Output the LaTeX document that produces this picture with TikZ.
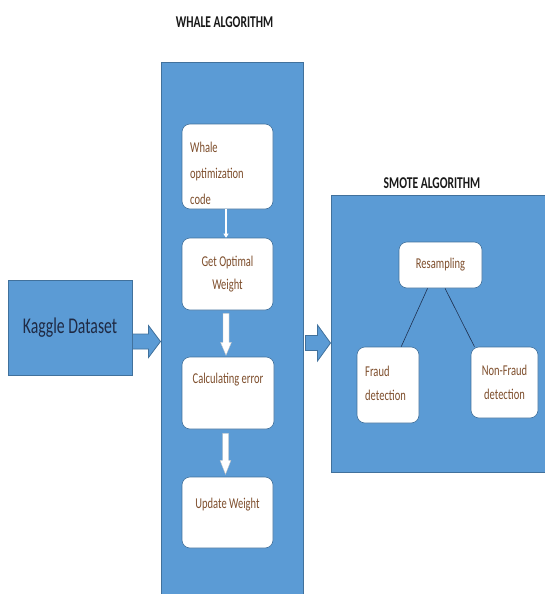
\documentclass[tikz,border=0pt]{standalone}
\usepackage{fontspec}
\setmainfont{Carlito}
\newfontfamily\condfont[FakeStretch=0.70]{Carlito}
\usetikzlibrary{calc,arrows.meta}
\definecolor{bluefill}{HTML}{5B9BD5}
\definecolor{blueedge}{HTML}{41719C}
\definecolor{boxtext}{HTML}{7E4E2C}
\definecolor{navytext}{HTML}{1F2A44}
\definecolor{linkcol}{HTML}{1F3050}
\tikzset{
  panel/.style={rectangle, fill=bluefill, draw=blueedge, line width=1pt, inner sep=0pt},
  wbox/.style={rectangle, rounded corners=8pt, fill=white, draw=blueedge, line width=0.6pt, inner sep=0pt,
    text=boxtext, font=\condfont\fontsize{15}{24}\selectfont, align=center},
  btext/.style={text=boxtext, font=\condfont\fontsize{15}{24}\selectfont, inner sep=0pt},
  titletext/.style={font=\condfont\bfseries\fontsize{16.5}{18}\selectfont, text=black!90, inner sep=0pt},
  barrow/.style={fill=bluefill, draw=blueedge, line width=0.8pt},
  warrow/.style={fill=white, draw=black!25, line width=0.3pt},
  link/.style={draw=linkcol, line width=0.6pt}
}
\begin{document}
\begin{tikzpicture}[x=1pt,y=-1pt]
\useasboundingbox (0,0) rectangle (545,594);
% panels
\node[panel, minimum width=142pt, minimum height=535pt] (whale) at (232,330.5) {};
\node[panel, minimum width=218pt, minimum height=277pt] (smote) at (440,333.5) {};
\node[panel, minimum width=124pt, minimum height=95pt, text=navytext,
      font=\condfont\fontsize{22.5}{26}\selectfont] (kaggle) at (70,327.5) {Kaggle Dataset};
% titles
\node[titletext] (whaletitle) at (224.5,22) {WHALE ALGORITHM};
\node[titletext] (smotetitle) at (432,183) {SMOTE ALGORITHM};
% whale boxes
\node[wbox, minimum width=91pt, minimum height=85pt] (woc) at (227.5,166.5) {};
\node[btext, align=left, anchor=west, font=\condfont\fontsize{15}{26}\selectfont] (woctext) at (190,173) {Whale\\optimization\\code};
\node[wbox, minimum width=91pt, minimum height=72pt, font=\condfont\fontsize{15}{23}\selectfont] (get) at (227.5,274) {Get Optimal\\Weight};
\node[wbox, minimum width=92pt, minimum height=72pt] (calc) at (228,393) {};
\node[btext] (calctext) at (228,380) {Calculating error};
\node[wbox, minimum width=91pt, minimum height=71pt] (upd) at (227.5,512.5) {};
\node[btext] (updtext) at (227.5,505) {Update Weight};
% smote boxes
\node[wbox, minimum width=83pt, minimum height=46pt] (res) at (440.5,265) {Resampling};
\node[wbox, minimum width=62pt, minimum height=76pt] (fraud) at (388,385) {};
\node[btext, align=left, anchor=west] (fraudtext) at (365,383) {Fraud\\detection};
\node[wbox, minimum width=67pt, minimum height=71pt] (nonfraud) at (504.5,382.5) {Non-Fraud\\detection};
% links
\draw[link] (res.241.5) -- (fraud.71.8);
\draw[link] (res.281) -- (nonfraud.130);
% small arrow
\draw[white, line width=1.5pt, -{Triangle[width=5pt,length=4pt]}] ($(woc.south)+(-1.5,0)$) -- ($(get.north)+(-1.5,0)$);
% white block arrows
\draw[warrow] ($(get.south)+(-4.5,3)$) -- ++(6,0) -- ++(0,29) -- ++(2.5,0) -- ++(-5.5,13) -- ++(-5.5,-13) -- ++(2.5,0) -- cycle;
\draw[warrow] ($(calc.south)+(-5.5,4)$) -- ++(6,0) -- ++(0,27) -- ++(2.5,0) -- ++(-5.5,14) -- ++(-5.5,-14) -- ++(2.5,0) -- cycle;
% blue block arrows
\draw[barrow] ($(kaggle.east)+(0,6.5)$) -- ++(16,0) -- ++(0,-8.5) -- ++(12,16) -- ++(-12,16) -- ++(0,-8.5) -- ++(-16,0) -- cycle;
\draw[barrow] ($(whale.east)+(2,5)$) -- ++(12,0) -- ++(0,-10.5) -- ++(13,18) -- ++(-13,18) -- ++(0,-10.5) -- ++(-12,0) -- cycle;
\end{tikzpicture}
\end{document}
